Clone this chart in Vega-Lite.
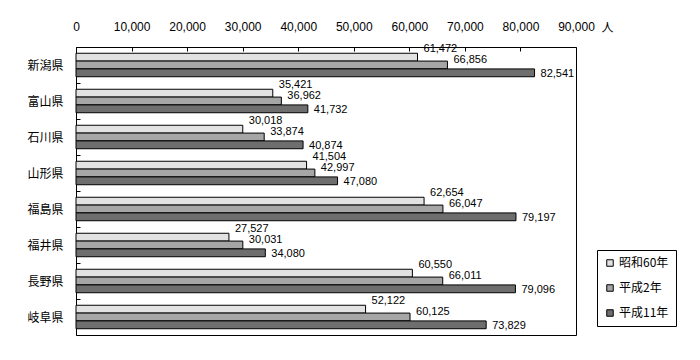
{
  "$schema": "https://vega.github.io/schema/vega-lite/v6.json",
  "autosize": "none",
  "width": 500,
  "height": 288,
  "padding": {"left": 76, "top": 47, "right": 124, "bottom": 25},
  "background": "white",
  "config": {
    "view": {"stroke": "black", "strokeWidth": 1},
    "font": "Liberation Sans, Noto Sans CJK JP",
    "axis": {"labelColor": "black", "tickColor": "black", "titleColor": "black", "grid": false, "domain": false}
  },
  "data": {
    "values": [
      {"pref": "新潟県", "series": "昭和60年", "value": 61472},
      {"pref": "新潟県", "series": "平成2年", "value": 66856},
      {"pref": "新潟県", "series": "平成11年", "value": 82541},
      {"pref": "富山県", "series": "昭和60年", "value": 35421},
      {"pref": "富山県", "series": "平成2年", "value": 36962},
      {"pref": "富山県", "series": "平成11年", "value": 41732},
      {"pref": "石川県", "series": "昭和60年", "value": 30018},
      {"pref": "石川県", "series": "平成2年", "value": 33874},
      {"pref": "石川県", "series": "平成11年", "value": 40874},
      {"pref": "山形県", "series": "昭和60年", "value": 41504},
      {"pref": "山形県", "series": "平成2年", "value": 42997},
      {"pref": "山形県", "series": "平成11年", "value": 47080},
      {"pref": "福島県", "series": "昭和60年", "value": 62654},
      {"pref": "福島県", "series": "平成2年", "value": 66047},
      {"pref": "福島県", "series": "平成11年", "value": 79197},
      {"pref": "福井県", "series": "昭和60年", "value": 27527},
      {"pref": "福井県", "series": "平成2年", "value": 30031},
      {"pref": "福井県", "series": "平成11年", "value": 34080},
      {"pref": "長野県", "series": "昭和60年", "value": 60550},
      {"pref": "長野県", "series": "平成2年", "value": 66011},
      {"pref": "長野県", "series": "平成11年", "value": 79096},
      {"pref": "岐阜県", "series": "昭和60年", "value": 52122},
      {"pref": "岐阜県", "series": "平成2年", "value": 60125},
      {"pref": "岐阜県", "series": "平成11年", "value": 73829}
    ]
  },
  "encoding": {
    "y": {
      "field": "pref", "type": "nominal", "sort": null,
      "scale": {"paddingInner": 0, "paddingOuter": 0},
      "axis": {"title": null, "orient": "left", "offset": -4, "tickBand": "extent", "tickSize": 4, "labelPadding": 13, "labelFontSize": 12, "labelFont": "Noto Sans CJK JP"}
    },
    "yOffset": {
      "field": "series", "type": "nominal",
      "scale": {"domain": ["昭和60年", "平成2年", "平成11年"], "paddingInner": 0, "paddingOuter": 0.8}
    },
    "x": {
      "field": "value", "type": "quantitative",
      "scale": {"domain": [0, 90000], "nice": false},
      "axis": {
        "orient": "top", "offset": -4,
        "values": [0, 10000, 20000, 30000, 40000, 50000, 60000, 70000, 80000, 90000],
        "format": ",.0f", "tickSize": 4, "labelPadding": 14, "labelFontSize": 12,
        "labelFlush": false, "labelOverlap": false, "labelBound": false,
        "title": "人", "titleAngle": 0, "titleX": 531, "titleY": -24, "titleAlign": "center", "titleBaseline": "middle",
        "titleFontWeight": "normal", "titleFontSize": 12, "titleFont": "Noto Sans CJK JP"
      }
    }
  },
  "layer": [
    {
      "mark": {"type": "bar", "stroke": "black", "strokeWidth": 1},
      "encoding": {
        "fill": {
          "field": "series", "type": "nominal",
          "scale": {"domain": ["昭和60年", "平成2年", "平成11年"], "range": ["#e2e2e2", "#a6a6a6", "#6e6e6e"]},
          "legend": {
            "title": null, "orient": "none", "legendX": 521, "legendY": 203,
            "strokeColor": "black", "fillColor": "white", "padding": 7,
            "symbolType": "square", "symbolSize": 42, "symbolStrokeColor": "black", "symbolStrokeWidth": 1,
            "labelFontSize": 12, "labelFont": "Noto Sans CJK JP", "labelColor": "black", "labelOffset": 3, "rowPadding": 13
          }
        }
      }
    },
    {
      "transform": [{"filter": "datum.series === '昭和60年'"}],
      "mark": {"type": "text", "align": "left", "baseline": "middle", "dx": 6, "dy": -8, "fontSize": 11, "color": "black"},
      "encoding": {"text": {"field": "value", "type": "quantitative", "format": ",.0f"}}
    },
    {
      "transform": [{"filter": "datum.series === '平成2年'"}],
      "mark": {"type": "text", "align": "left", "baseline": "middle", "dx": 6, "dy": -5, "fontSize": 11, "color": "black"},
      "encoding": {"text": {"field": "value", "type": "quantitative", "format": ",.0f"}}
    },
    {
      "transform": [{"filter": "datum.series === '平成11年'"}],
      "mark": {"type": "text", "align": "left", "baseline": "middle", "dx": 6, "dy": 1, "fontSize": 11, "color": "black"},
      "encoding": {"text": {"field": "value", "type": "quantitative", "format": ",.0f"}}
    }
  ]
}
